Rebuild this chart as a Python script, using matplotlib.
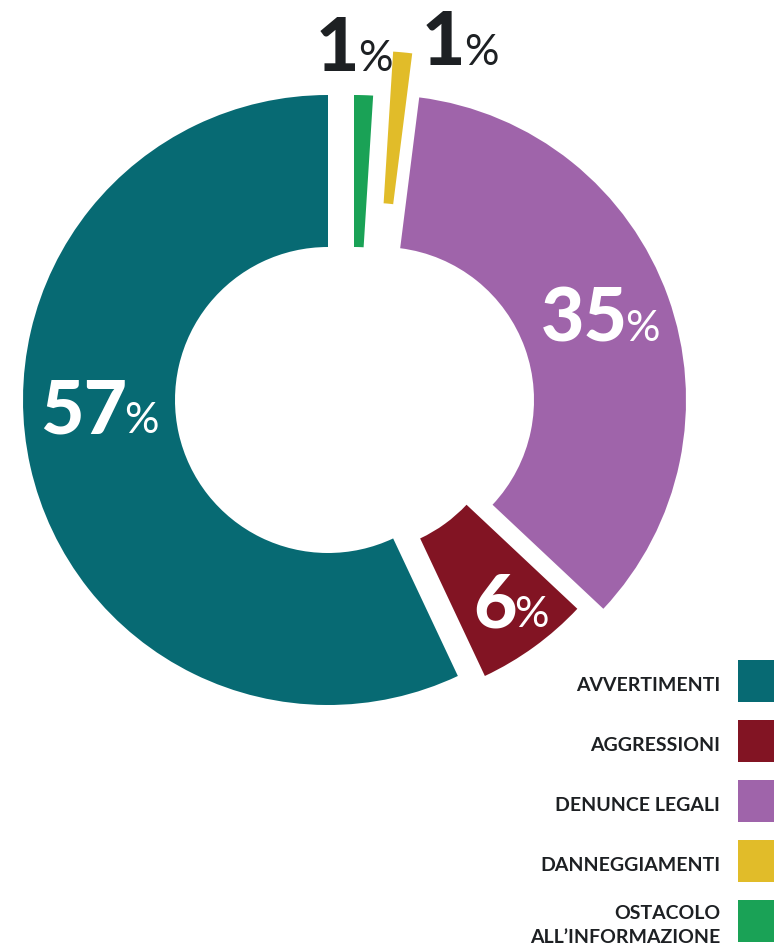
import matplotlib
matplotlib.use('Agg')
import matplotlib.pyplot as plt
from matplotlib.patches import Wedge, Rectangle

# ---- data ----
categories = ['AVVERTIMENTI', 'AGGRESSIONI', 'DENUNCE LEGALI', 'DANNEGGIAMENTI',
              'OSTACOLO\nALL\u2019INFORMAZIONE']
values = [57, 6, 35, 1, 1]
value_labels = ['57', '6', '35', '1', '1']

# ---- style ----
colors = ['#076a73', '#821423', '#9f64aa', '#e1bc29', '#1aa256']
label_colors = ['white', 'white', 'white', '#1d2023', '#1d2023']
dark = '#1d2023'

W, H = 774, 947
fig = plt.figure(figsize=(W / 100, H / 100), dpi=100)
ax = fig.add_axes([0, 0, 1, 1])
ax.set_xlim(0, W)
ax.set_ylim(0, H)
ax.axis('off')

def Y(py):
    return H - py

CX, CY = 355, Y(400)
R_OUT, R_IN = 305, 153
# per-slice manual offsets (px, y up)
offsets = [(-27, 0), (0, 0), (26, 0), (19, 44), (-1, 0)]
# label centre x and baseline (px, y down)
label_pos = [(99.5, 433), (511, 627), (600, 341), (460, 65), (354, 71)]
gaps = [-3, -3, -3, -1, -1]

total = sum(values)
cum = 0
for v, c, off in zip(values, colors, offsets):
    t1 = 90 + cum / total * 360
    cum += v
    t2 = 90 + cum / total * 360
    ax.add_patch(Wedge((CX + off[0], CY + off[1]), R_OUT, t1, t2,
                       width=R_OUT - R_IN, facecolor=c, edgecolor='none'))

fig.canvas.draw()
renderer = fig.canvas.get_renderer()
FONT = 'Lato'
for txt, lc, (lx, lb), gap in zip(value_labels, label_colors, label_pos, gaps):
    n = ax.text(0, Y(lb), txt, fontsize=54, fontweight='black', family=FONT,
                color=lc, ha='left', va='baseline')
    p = ax.text(0, Y(lb), '%', fontsize=31, fontweight='normal', family=FONT,
                color=lc, ha='left', va='baseline')
    wn = n.get_window_extent(renderer).width
    wp = p.get_window_extent(renderer).width
    x0 = lx - (wn + gap + wp) / 2
    n.set_x(x0)
    p.set_x(x0 + wn + gap)

# legend
box_top0 = 660
step = 60
box = 42
for i, (cat, c) in enumerate(zip(categories, colors)):
    top = box_top0 + i * step
    ax.add_patch(Rectangle((738, Y(top + box)), box, box, facecolor=c,
                           edgecolor='none'))
    ax.text(720, Y(top + box / 2 + 4), cat, fontsize=14, fontweight='bold',
            family=FONT, color=dark, ha='right', va='center', linespacing=1.5,
            multialignment='right')

fig.savefig('out.png', dpi=100, facecolor='white')
